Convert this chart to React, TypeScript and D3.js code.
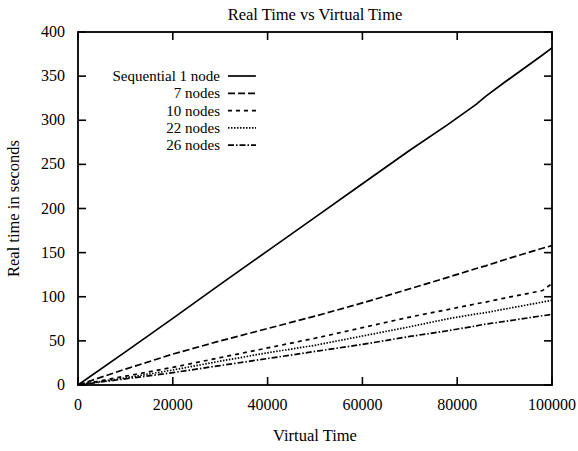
import { useEffect, useRef } from 'react';
import * as d3 from 'd3';

// virtual time samples (x)
const virtualTime = [0, 10000, 20000, 30000, 40000, 50000, 60000, 70000, 78000, 84000, 86000, 90000, 98000, 100000];

// real time in seconds per run
const sequential = [0, 37.5, 75.5, 114, 152, 190, 228, 266, 295, 318, 327, 343, 374, 382];
const nodes7 = [0, 18, 35, 50, 64, 78, 93, 109, 122, 132, 135, 142, 155, 158];
const nodes10 = [0, 10, 20, 31, 42, 53, 65, 77, 85.5, 92, 94, 98.5, 107, 115];
const nodes22 = [0, 8, 17, 27, 36.5, 45, 55.5, 66, 75, 80.5, 82, 86, 94, 96];
const nodes26 = [0, 7, 14, 22, 30, 38, 46, 55, 61.5, 67, 69, 72, 78.5, 80];

const seriesNames = ['Sequential 1 node', '7 nodes', '10 nodes', '22 nodes', '26 nodes'];
const seriesDash = ['', '7,3', '4,4', '1.5,1.5', '6,2,1.5,2'];

const xTicks = [0, 20000, 40000, 60000, 80000, 100000];
const yTicks = [0, 50, 100, 150, 200, 250, 300, 350, 400];

const App = () => {
  const svgRef = useRef(null);

  useEffect(() => {
    const width = 578;
    const height = 451;
    const m = { left: 78, right: 26, top: 32, bottom: 66 };
    const font = '"Liberation Serif", "Times New Roman", serif';

    const svg = d3.select(svgRef.current);
    svg.selectAll('*').remove();

    const x = d3.scaleLinear().domain([0, 100000]).range([m.left, width - m.right]);
    const y = d3.scaleLinear().domain([0, 400]).range([height - m.bottom, m.top]);

    const all = [sequential, nodes7, nodes10, nodes22, nodes26];

    const line = d3.line()
      .x((d) => x(d[0]))
      .y((d) => y(d[1]));

    // ticks, inward on all four sides
    const tl = 8;
    const ticks = svg.append('g').attr('stroke', '#000').attr('stroke-width', 1.6);
    xTicks.forEach((t) => {
      ticks.append('line').attr('x1', x(t)).attr('x2', x(t)).attr('y1', y(0)).attr('y2', y(0) - tl);
      ticks.append('line').attr('x1', x(t)).attr('x2', x(t)).attr('y1', y(400)).attr('y2', y(400) + tl);
    });
    yTicks.forEach((t) => {
      ticks.append('line').attr('x1', x(0)).attr('x2', x(0) + tl).attr('y1', y(t)).attr('y2', y(t));
      ticks.append('line').attr('x1', x(100000)).attr('x2', x(100000) - tl).attr('y1', y(t)).attr('y2', y(t));
    });

    svg.append('g')
      .selectAll('text')
      .data(xTicks)
      .enter()
      .append('text')
      .attr('x', (d) => x(d))
      .attr('y', y(0) + 25)
      .attr('text-anchor', 'middle')
      .style('font-family', font)
      .style('font-size', '16px')
      .text((d) => d);

    svg.append('g')
      .selectAll('text')
      .data(yTicks)
      .enter()
      .append('text')
      .attr('x', x(0) - 13)
      .attr('y', (d) => y(d) + 5)
      .attr('text-anchor', 'end')
      .style('font-family', font)
      .style('font-size', '16px')
      .text((d) => d);

    // series
    all.forEach((vals, i) => {
      const pts = virtualTime.map((t, j) => [t, vals[j]]);
      svg.append('path')
        .attr('d', line(pts))
        .attr('fill', 'none')
        .attr('stroke', '#000')
        .attr('stroke-width', 1.7)
        .attr('stroke-dasharray', seriesDash[i] || null);
    });

    // frame
    svg.append('rect')
      .attr('x', x(0))
      .attr('y', y(400))
      .attr('width', x(100000) - x(0))
      .attr('height', y(0) - y(400))
      .attr('fill', 'none')
      .attr('stroke', '#000')
      .attr('stroke-width', 1.8);

    // legend
    const lg = svg.append('g');
    seriesNames.forEach((name, i) => {
      const ly = 76 + i * 17.3;
      lg.append('text')
        .attr('x', 220)
        .attr('y', ly + 5)
        .attr('text-anchor', 'end')
        .style('font-family', font)
        .style('font-size', '15px')
        .text(name);
      lg.append('line')
        .attr('x1', 228)
        .attr('x2', 256)
        .attr('y1', ly)
        .attr('y2', ly)
        .attr('stroke', '#000')
        .attr('stroke-width', 1.7)
        .attr('stroke-dasharray', seriesDash[i] || null);
    });

    svg.append('text')
      .attr('x', (x(0) + x(100000)) / 2)
      .attr('y', 20)
      .attr('text-anchor', 'middle')
      .style('font-family', font)
      .style('font-size', '16.5px')
      .text('Real Time vs Virtual Time');

    svg.append('text')
      .attr('x', (x(0) + x(100000)) / 2)
      .attr('y', 441)
      .attr('text-anchor', 'middle')
      .style('font-family', font)
      .style('font-size', '16.5px')
      .text('Virtual Time');

    svg.append('text')
      .attr('transform', `translate(19,${(y(0) + y(400)) / 2}) rotate(-90)`)
      .attr('text-anchor', 'middle')
      .style('font-family', font)
      .style('font-size', '16.5px')
      .text('Real time in seconds');
  }, []);

  return (
    <svg
      ref={svgRef}
      width={578}
      height={451}
      style={{ position: 'absolute', left: 0, top: 0, background: '#fff' }}
    />
  );
};

export default App;
